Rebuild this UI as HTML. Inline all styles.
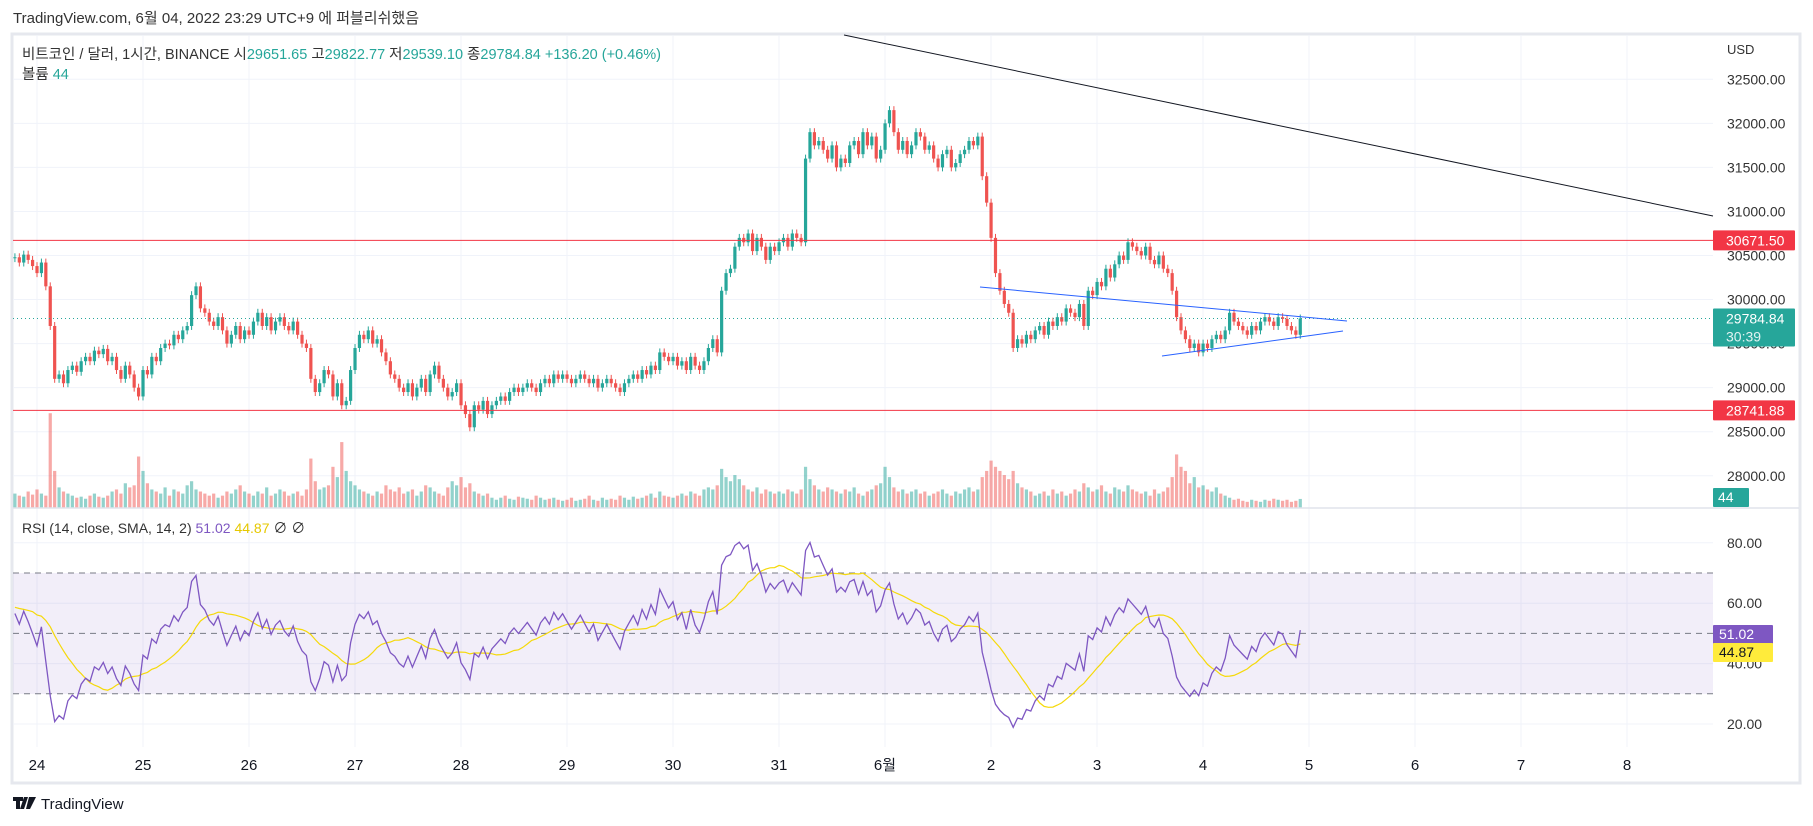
<!DOCTYPE html>
<html><head><meta charset="utf-8">
<style>
html,body{margin:0;padding:0;background:#fff;width:1813px;height:826px;overflow:hidden}
svg{display:block;font-family:"Liberation Sans","Noto Sans CJK KR",sans-serif}
</style></head><body>
<svg id="c" width="1813" height="826" viewBox="0 0 1813 826">
<rect x="0" y="0" width="1813" height="826" fill="#fff"/>
<text x="13" y="23" font-size="15" fill="#333">TradingView.com, 6월 04, 2022 23:29 UTC+9 에 퍼블리쉬했음</text>
<rect x="12" y="34" width="1788" height="749" fill="none" stroke="#e6e8ee" stroke-width="3"/>
<g id="grid"></g>
<rect x="13" y="573" width="1700" height="121" fill="#7e57c2" fill-opacity="0.1"/>
<g id="vol"></g>
<g id="candles"></g>
<g id="lines"></g>
<g id="rsi"></g>
<g id="axis"></g>
<line x1="13" y1="508" x2="1799" y2="508" stroke="#e0e3eb" stroke-width="1.5"/>
<text x="22" y="59" font-size="14.5" fill="#333">비트코인 / 달러, 1시간, BINANCE  시<tspan fill="#26a69a">29651.65</tspan>  고<tspan fill="#26a69a">29822.77</tspan>  저<tspan fill="#26a69a">29539.10</tspan>  종<tspan fill="#26a69a">29784.84  +136.20 (+0.46%)</tspan></text>
<text x="22" y="79" font-size="14.5" fill="#333">볼륨 <tspan fill="#26a69a">44</tspan></text>
<text x="22" y="533" font-size="14" fill="#333">RSI (14, close, SMA, 14, 2) <tspan fill="#7e57c2">51.02</tspan>  <tspan fill="#e6c800">44.87</tspan>  <tspan fill="#333">∅</tspan>  <tspan fill="#333">∅</tspan></text>
<text x="1727" y="54" font-size="13" fill="#333">USD</text>
<g>
<path d="M13 797h10v4h-3v8h-4v-8h-3z M24 797h4l-4 12h-4z M29 797h7l-6 12h-4z" fill="#131722"/>
<text x="41" y="809" font-size="15" fill="#131722">TradingView</text>
</g>
</svg>
<script>
const priorCloses=[30150,30200,30120,30250,30180,30300,30220,30350,30280,30200,30320,30400,30350,30300,30420,30380,30450,30400,30350,30480,30420,30500,30460,30550,30500,30440,30520,30470];
const closes=[30480,30420,30510,30450,30380,
30300,30420,30150,29700,29100,29150,29050,29200,29250,29180,29300,29350,29300,29420,29380,29440,29300,29350,29200,29100,29250,29150,29000,28900,
29200,29150,29350,29300,29450,29500,29480,29600,29550,29650,29700,30050,30150,29900,29850,29750,29700,29800,29650,29500,29600,29700,29550,29650,
29600,29750,29850,29700,29800,29650,29750,29800,29700,29650,29750,29600,29500,29450,29100,28950,29050,29200,29150,28900,29050,28800,28850,29200,
29450,29600,29550,29650,29500,29550,29400,29300,29150,29100,29000,28950,29050,28900,29000,29100,28950,29150,29250,29100,29000,28900,28950,29050,
28800,28700,28550,28800,28750,28850,28700,28800,28850,28900,28850,28950,29000,28950,29000,29050,29000,28950,29050,29100,29050,29150,29100,29150,
29100,29050,29100,29150,29100,29050,29100,29000,29050,29100,29050,29000,28950,29050,29100,29150,29100,29200,29150,29250,29200,29400,29350,29300,
29350,29250,29300,29200,29350,29250,29200,29300,29450,29550,29400,30100,30300,30350,30600,30700,30650,30750,30550,30700,30600,30450,30600,30550,
30650,30700,30600,30750,30700,30650,31600,31900,31750,31800,31700,31600,31750,31500,31600,31550,31750,31800,31650,31900,31750,31850,31600,31700,
32000,32150,31900,31700,31800,31650,31750,31900,31850,31700,31750,31600,31500,31650,31700,31500,31550,31650,31700,31800,31750,31850,31400,31100,
30700,30300,30100,29950,29850,29450,29550,29500,29600,29550,29650,29700,29600,29750,29700,29800,29750,29900,29850,29800,29950,29700,30100,30050,
30200,30150,30350,30250,30400,30500,30450,30650,30600,30550,30500,30600,30450,30400,30500,30350,30300,30100,29800,29650,29550,29450,29500,29400,
29500,29450,29550,29600,29550,29650,29850,29750,29700,29650,29600,29700,29650,29750,29800,29750,29700,29800,29780,29700,29650,29600,29785];
const volumes=[70,60,55,80,65,
90,70,60,460,180,100,80,70,60,50,55,45,60,70,55,50,60,80,90,70,120,100,110,250,
180,120,90,80,70,100,60,90,80,70,110,130,90,80,70,60,70,50,60,80,70,90,110,80,
70,60,80,70,100,60,70,90,80,60,70,80,60,90,240,130,90,100,110,200,150,320,180,130,
110,90,80,70,60,80,70,110,90,80,100,70,80,90,60,80,110,100,80,70,60,100,130,110,
150,100,120,80,70,60,70,50,40,50,60,45,40,55,50,45,40,60,50,40,45,50,40,35,
40,50,35,40,45,60,40,35,50,40,45,40,60,50,40,55,45,50,60,70,50,80,60,55,
50,60,70,60,80,70,60,90,100,90,110,190,150,130,160,140,110,90,80,100,70,90,80,70,
80,70,90,80,70,90,200,140,110,90,80,100,90,80,70,90,80,100,70,60,80,90,110,120,
200,150,100,80,90,70,80,90,70,80,60,70,80,90,70,60,80,70,90,100,80,90,150,180,
230,200,180,160,140,180,120,100,90,80,60,70,80,60,90,70,80,60,70,90,80,120,100,80,
90,110,80,70,100,90,80,110,90,80,70,80,60,90,70,80,100,150,260,200,180,120,150,100,
110,90,80,100,70,60,50,40,45,35,30,40,35,30,40,35,45,40,35,40,30,35,44];
const priceTicks=[32500,32000,31500,31000,30500,30000,29500,29000,28500,28000];
const rsiTicks=[80,60,40,20];
const dateLabels=["24","25","26","27","28","29","30","31","6월","2","3","4","5","6","7","8"];
const levels=[30671.50,28741.88];
const lastPrice=29784.84;

const NS="http://www.w3.org/2000/svg";
function mk(tag,attrs,parent){const e=document.createElementNS(NS,tag);for(const k in attrs)e.setAttribute(k,attrs[k]);parent.appendChild(e);return e;}
const xOf=i=>37+(i-5)*4.417;
const yP=p=>79.3+(32500-p)*0.0881;
const yR=v=>573+(70-v)*3.02;
const yV=v=>508-v*0.206;
const G=document.getElementById('grid'),A=document.getElementById('axis');
priceTicks.forEach(p=>{
  const l=mk('line',{x1:13,x2:1713,y1:yP(p),y2:yP(p),stroke:'#f0f3fa'},G);
  
  
  const t=mk('text',{x:1727,y:yP(p)+5,'font-size':14,fill:'#333'},A);t.textContent=p.toFixed(2);
  
  
});
rsiTicks.forEach(v=>{
  const l=mk('line',{x1:13,x2:1713,y1:yR(v),y2:yR(v),stroke:'#f0f3fa'},G);
  
  
  const t=mk('text',{x:1727,y:yR(v)+5,'font-size':14,fill:'#333'},A);t.textContent=v.toFixed(2);
  
  
});
dateLabels.forEach((d,k)=>{
  const x=37+k*106;
  const l=mk('line',{x1:x,x2:x,y1:35,y2:747,stroke:'#f0f3fa'},G);
  
  
  const t=mk('text',{x:x,y:770,'font-size':15,fill:'#131722','text-anchor':'middle'},A);t.textContent=d;
  
  
});
const V=document.getElementById('vol'),C=document.getElementById('candles');
closes.forEach((c,i)=>{
  const o=i?closes[i-1]:priorCloses[priorCloses.length-1];const up=c>=o;const col=up?'#26a69a':'#ef5350';const x=xOf(i);
  const vb=mk('rect',{x:x-1.6,y:yV(volumes[i]),width:3.2,height:volumes[i]*0.206,fill:col,'fill-opacity':0.5},V);
  
  
  const hi=Math.max(o,c)+45,lo=Math.min(o,c)-45;
  const w=mk('line',{x1:x,x2:x,y1:yP(hi),y2:yP(lo),stroke:col,'stroke-width':1},C);
  
  
  const b=mk('rect',{x:x-1.6,y:yP(Math.max(o,c)),width:3.2,height:Math.max(1,Math.abs(yP(o)-yP(c))),fill:col},C);
  
  
});
const L=document.getElementById('lines');
levels.forEach(p=>{
  const l=mk('line',{x1:13,x2:1713,y1:yP(p),y2:yP(p),stroke:'#f23645','stroke-width':1},L);
  
  
  const r=mk('rect',{x:1713,y:yP(p)-10,width:82,height:20,rx:1,fill:'#f23645'},A);
  
  
  const t=mk('text',{x:1726,y:yP(p)+5,'font-size':14,fill:'#fff'},A);t.textContent=p.toFixed(2);
  
  
});
const lp=mk('line',{x1:13,x2:1713,y1:yP(lastPrice),y2:yP(lastPrice),stroke:'#26a69a','stroke-dasharray':'1 3'},L);


const lpb=mk('rect',{x:1713,y:yP(lastPrice)-10,width:82,height:38,rx:1,fill:'#26a69a'},A);


let t1=mk('text',{x:1726,y:yP(lastPrice)+5,'font-size':14,fill:'#fff'},A);t1.textContent=lastPrice.toFixed(2);


let t2=mk('text',{x:1726,y:yP(lastPrice)+23,'font-size':14,fill:'#e0f2f1'},A);t2.textContent='30:39';


const vlast=volumes[volumes.length-1];
const vb2=mk('rect',{x:1713,y:488,width:36,height:19,rx:1,fill:'#26a69a'},A);


let t3=mk('text',{x:1718,y:502,'font-size':14,fill:'#fff'},A);t3.textContent=String(vlast);


const tl=mk('line',{x1:844,y1:35,x2:1713,y2:216,stroke:'#131722','stroke-width':1},L);


const tu=mk('line',{x1:980,y1:287,x2:1347,y2:321,stroke:'#2962ff','stroke-width':1},L);


const tlw=mk('line',{x1:1162,y1:356,x2:1343,y2:331,stroke:'#2962ff','stroke-width':1},L);


// RSI (warm-up with prior closes)
const R=document.getElementById('rsi');
[70,50,30].forEach(v=>{const l=mk('line',{x1:13,x2:1713,y1:yR(v),y2:yR(v),stroke:'#787b86','stroke-dasharray':'6 5','stroke-width':1},R);

});
const all=priorCloses.concat(closes);const off=priorCloses.length;
const rsiAll=[];let ag=0,al=0;
for(let i=1;i<all.length;i++){const d=all[i]-all[i-1];const g=Math.max(d,0),l=Math.max(-d,0);
  if(i<=14){ag+=g/14;al+=l/14;}else{ag=(ag*13+g)/14;al=(al*13+l)/14;}
  if(i>=14)rsiAll[i]=al===0?100:100-100/(1+ag/al);}
const smaAll=[];
for(let i=27;i<all.length;i++){let s=0;for(let k=i-13;k<=i;k++)s+=rsiAll[k];smaAll[i]=s/14;}
let pr='',ps='';
for(let i=0;i<closes.length;i++){
  const v=rsiAll[i+off],s=smaAll[i+off];
  if(v!==undefined)pr+=(pr?'L':'M')+xOf(i).toFixed(1)+' '+yR(v).toFixed(1);
  if(s!==undefined)ps+=(ps?'L':'M')+xOf(i).toFixed(1)+' '+yR(s).toFixed(1);
}
const sp=mk('path',{d:ps,fill:'none',stroke:'#f5d90a','stroke-width':1.2},R);


const rp=mk('path',{d:pr,fill:'none',stroke:'#7e57c2','stroke-width':1.3},R);


const rb=mk('rect',{x:1713,y:625,width:60,height:19,rx:1,fill:'#7e57c2'},A);


let t4=mk('text',{x:1719,y:639,'font-size':14,fill:'#fff'},A);t4.textContent='51.02';


const sb=mk('rect',{x:1713,y:643,width:60,height:19,rx:1,fill:'#ffeb3b'},A);


let t5=mk('text',{x:1719,y:657,'font-size':14,fill:'#131722'},A);t5.textContent='44.87';


</script>
</body></html>
